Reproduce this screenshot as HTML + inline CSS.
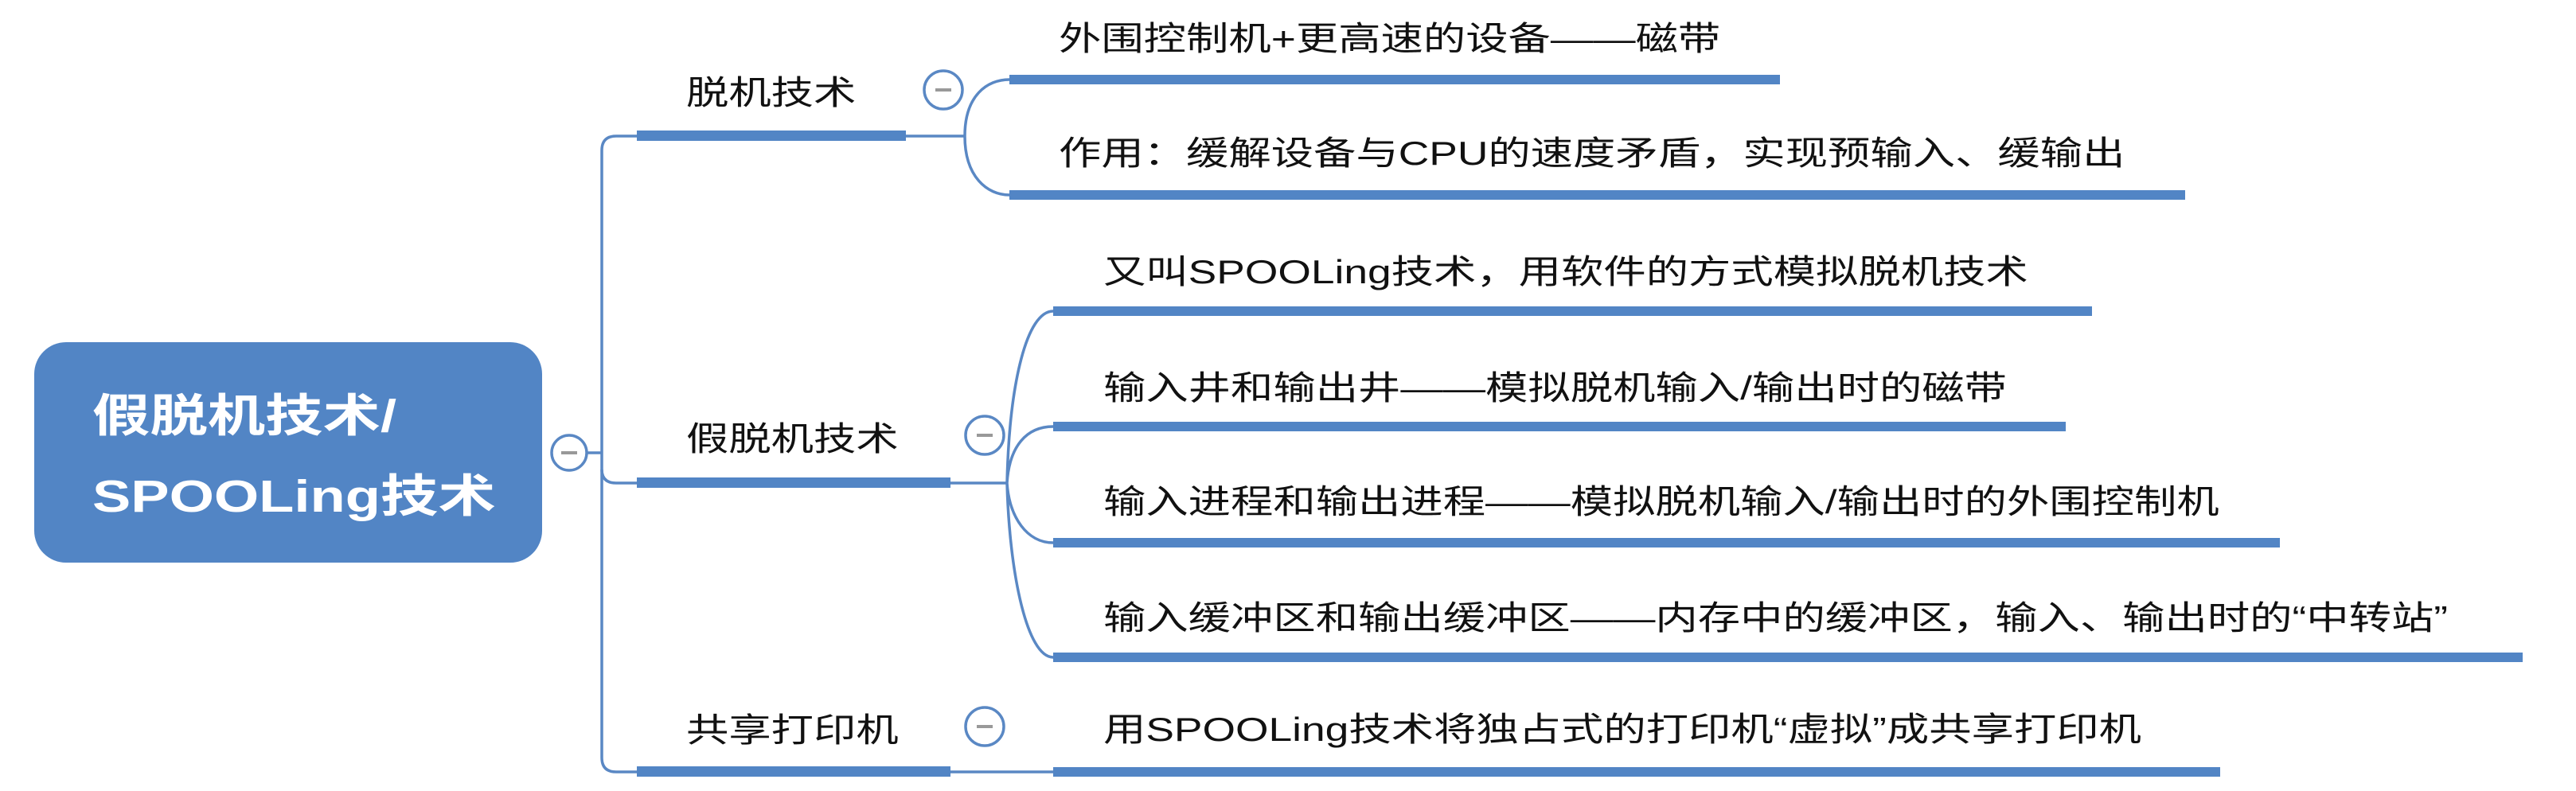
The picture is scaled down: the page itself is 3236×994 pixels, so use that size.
<!DOCTYPE html>
<html><head><meta charset="utf-8"><style>
body{margin:0;width:3236px;height:994px;background:#fff;position:relative;overflow:hidden;font-family:"Liberation Sans","Noto Sans CJK SC",sans-serif}
.t{position:absolute;white-space:nowrap;transform:scaleX(1.27);transform-origin:left center;font-size:42px;line-height:50px;color:#111}
.r{position:absolute;white-space:nowrap;transform:scaleX(1.27);transform-origin:left center;font-size:57px;line-height:64px;color:#fff;font-weight:bold}
</style></head><body>
<svg width="3236" height="994" style="position:absolute;left:0;top:0">
<rect x="43" y="430" width="638" height="277" rx="40" fill="#5285c5"/>
<g fill="none" stroke="#5a88c4" stroke-width="3.5">
<path d="M738 569 H756"/>
<path d="M800 171 H774 Q756 171 756 189 V952 Q756 970 774 970 H800"/>
<path d="M756 590 Q756 607 774 607 H800"/>
<path d="M1138 171 H1212 M1212 171 C1212 120 1240 100 1268 100 M1212 171 C1212 222 1240 245 1268 245"/>
<path d="M1194 607 H1265 M1265 607 C1268 480 1290 391 1323 391 M1265 607 C1268 560 1290 536 1323 536 M1265 607 C1268 650 1290 682 1323 682 M1265 607 C1268 720 1290 826 1323 826"/>
<path d="M1194 970 H1323"/>
</g>
<g fill="#5285c5">
<rect x="800" y="164" width="338" height="13"/>
<rect x="800" y="600" width="394" height="13"/>
<rect x="800" y="963" width="394" height="13"/>
<rect x="1268" y="94" width="968" height="12"/>
<rect x="1268" y="239" width="1477" height="12"/>
<rect x="1323" y="385" width="1305" height="12"/>
<rect x="1323" y="530" width="1272" height="12"/>
<rect x="1323" y="676" width="1541" height="12"/>
<rect x="1323" y="820" width="1846" height="12"/>
<rect x="1323" y="964" width="1466" height="12"/>
</g>
<g fill="#fff" stroke="#5a88c4" stroke-width="3.5">
<circle cx="715" cy="569" r="22"/>
<circle cx="1185" cy="113" r="24"/>
<circle cx="1237" cy="547" r="24"/>
<circle cx="1237" cy="913" r="24"/>
</g>
<g stroke="#999" stroke-width="4">
<path d="M705 569 H725 M1175 113 H1195 M1227 547 H1247 M1227 913 H1247"/>
</g>
</svg>
<div class="r" style="left:116px;top:491px">假脱机技术/</div>
<div class="r" style="left:116px;top:592px">SPOOLing技术</div>
<div class="t" style="left:862px;top:92px">脱机技术</div>
<div class="t" style="left:862px;top:527px">假脱机技术</div>
<div class="t" style="left:862px;top:893px">共享打印机</div>
<div class="t" style="left:1330px;top:24px">外围控制机+更高速的设备——磁带</div>
<div class="t" style="left:1330px;top:168px">作用：缓解设备与CPU的速度矛盾，实现预输入、缓输出</div>
<div class="t" style="left:1386px;top:317px">又叫SPOOLing技术，用软件的方式模拟脱机技术</div>
<div class="t" style="left:1386px;top:463px">输入井和输出井——模拟脱机输入/输出时的磁带</div>
<div class="t" style="left:1386px;top:606px">输入进程和输出进程——模拟脱机输入/输出时的外围控制机</div>
<div class="t" style="left:1386px;top:752px">输入缓冲区和输出缓冲区——内存中的缓冲区，输入、输出时的“中转站”</div>
<div class="t" style="left:1386px;top:892px">用SPOOLing技术将独占式的打印机“虚拟”成共享打印机</div>
</body></html>
